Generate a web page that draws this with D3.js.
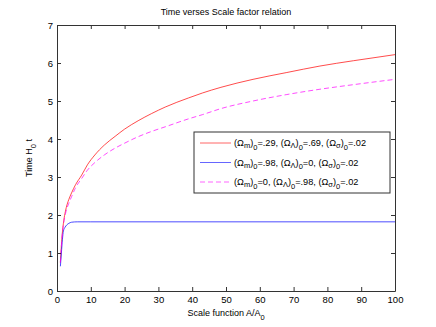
<!DOCTYPE html>
<html>
<head>
<meta charset="utf-8">
<script src="https://cdn.jsdelivr.net/npm/d3@7"></script>
<style>
  body { margin: 0; background: #fff; }
  text { font-family: "Liberation Sans", Arial, sans-serif; fill: #000; }
</style>
</head>
<body>
<svg id="chart" width="436" height="327"></svg>
<script>
// data
const xRed = [1, 1.5, 2, 2.5, 3, 3.5, 4.3, 5.5, 7.3, 9, 11.2, 14, 17.2, 20, 24, 28, 32, 38.9, 43, 48.5, 58, 68, 77.8, 87.7, 100];
const yRed = [0.75, 1.45, 1.85, 2.1, 2.28, 2.41, 2.58, 2.8, 3.05, 3.32, 3.58, 3.84, 4.07, 4.26, 4.48, 4.67, 4.84, 5.08, 5.21, 5.36, 5.57, 5.75, 5.92, 6.06, 6.22];

const xBlue = [1, 1.3, 1.6, 1.9, 2.4, 2.9, 3.5, 4.3, 6, 10, 100];
const yBlue = [0.65, 1.0, 1.35, 1.58, 1.68, 1.74, 1.78, 1.81, 1.82, 1.82, 1.82];

const xMag = [1, 1.5, 2, 2.5, 3, 3.5, 4.3, 5.5, 7.3, 9, 11.2, 14, 17.2, 20, 24, 28, 32, 38.9, 43, 48.5, 58, 68, 77.8, 87.7, 100];
const yMag = [0.75, 1.42, 1.8, 2.03, 2.19, 2.31, 2.48, 2.72, 2.96, 3.18, 3.38, 3.58, 3.76, 3.89, 4.06, 4.2, 4.32, 4.53, 4.64, 4.8, 5.0, 5.17, 5.31, 5.43, 5.57];

const xTicks = [0, 10, 20, 30, 40, 50, 60, 70, 80, 90, 100];
const yTicks = [0, 1, 2, 3, 4, 5, 6, 7];

// legend label pieces: [text, 0 = normal | 1 = lower subscript | 2 = index subscript]
const legendRows = [
  [["(Ω", 0], ["m", 1], [")", 0], ["0", 2], ["=.29, (Ω", 0], ["Λ", 1], [")", 0], ["0", 2], ["=.69, (Ω", 0], ["σ", 1], [")", 0], ["0", 2], ["=.02", 0]],
  [["(Ω", 0], ["m", 1], [")", 0], ["0", 2], ["=.98, (Ω", 0], ["Λ", 1], [")", 0], ["0", 2], ["=0, (Ω", 0], ["σ", 1], [")", 0], ["0", 2], ["=.02", 0]],
  [["(Ω", 0], ["m", 1], [")", 0], ["0", 2], ["=0, (Ω", 0], ["Λ", 1], [")", 0], ["0", 2], ["=.98, (Ω", 0], ["σ", 1], [")", 0], ["0", 2], ["=.02", 0]]
];

const series = [
  { x: xRed, y: yRed, color: "#ff0000", dash: null },
  { x: xBlue, y: yBlue, color: "#0000ff", dash: null },
  { x: xMag, y: yMag, color: "#ff00ff", dash: "5,3" }
];

const margin = { top: 25, right: 41, bottom: 36, left: 57 };
const width = 436, height = 327;
const axisColor = "#333";

const xScale = d3.scaleLinear().domain([0, 100]).range([margin.left, width - margin.right]);
const yScale = d3.scaleLinear().domain([0, 7]).range([height - margin.bottom, margin.top]);

const svg = d3.select("#chart");

// lines
const line = d3.line().x(d => xScale(d[0])).y(d => yScale(d[1])).curve(d3.curveMonotoneX);
series.forEach(s => {
  svg.append("path")
    .datum(s.x.map((v, i) => [v, s.y[i]]))
    .attr("d", line)
    .attr("fill", "none")
    .attr("stroke", s.color)
    .attr("stroke-opacity", 0.7)
    .attr("stroke-width", 1)
    .attr("stroke-dasharray", s.dash);
});

// axes, matlab style box with inward ticks
const gx = svg.append("g").attr("transform", `translate(0,${yScale(0)})`)
  .call(d3.axisBottom(xScale).tickValues(xTicks).tickSize(-4).tickPadding(3).tickSizeOuter(0));
const gxTop = svg.append("g").attr("transform", `translate(0,${yScale(7)})`)
  .call(d3.axisTop(xScale).tickValues(xTicks).tickSize(-4).tickFormat("").tickSizeOuter(0));
const gy = svg.append("g").attr("transform", `translate(${xScale(0)},0)`)
  .call(d3.axisLeft(yScale).tickValues(yTicks).tickFormat(d3.format("d")).tickSize(-4).tickPadding(4).tickSizeOuter(0));
const gyRight = svg.append("g").attr("transform", `translate(${xScale(100)},0)`)
  .call(d3.axisRight(yScale).tickValues(yTicks).tickSize(-4).tickFormat("").tickSizeOuter(0));

[gx, gxTop, gy, gyRight].forEach(g => {
  g.select(".domain").attr("stroke", axisColor);
  g.selectAll(".tick line").attr("stroke", axisColor);
  g.selectAll("text").attr("font-size", 9.5).attr("font-family", "Liberation Sans, Arial, sans-serif").attr("fill", "#000");
});
gx.selectAll("text").attr("dy", "0.9em");

// title
svg.append("text")
  .attr("x", (xScale(0) + xScale(100)) / 2).attr("y", 15)
  .attr("text-anchor", "middle").attr("font-size", 9)
  .text("Time verses Scale factor relation");

// x label
const xl = svg.append("text")
  .attr("x", (xScale(0) + xScale(100)) / 2).attr("y", 316)
  .attr("text-anchor", "middle").attr("font-size", 9);
xl.append("tspan").text("Scale function A/A");
xl.append("tspan").attr("dy", 3.5).attr("font-size", 7.5).text("0");

// y label
const yl = svg.append("text")
  .attr("transform", `translate(32,${(yScale(0) + yScale(7)) / 2}) rotate(-90)`)
  .attr("text-anchor", "middle").attr("font-size", 9);
yl.append("tspan").text("Time H");
yl.append("tspan").attr("dy", 3.5).attr("font-size", 7.5).text("0");
yl.append("tspan").attr("dy", -3.5).text(" t");

// legend
const shifts = [0, 2, 3.5];
const lg = svg.append("g");
lg.append("rect")
  .attr("x", 194).attr("y", 132).attr("width", 196).attr("height", 61)
  .attr("fill", "#fff").attr("stroke", axisColor).attr("stroke-width", 1);
legendRows.forEach((row, i) => {
  const y = 143 + i * 19.5;
  lg.append("line")
    .attr("x1", 200).attr("x2", 231).attr("y1", y).attr("y2", y)
    .attr("stroke", series[i].color).attr("stroke-opacity", 0.6)
    .attr("stroke-dasharray", series[i].dash);
  const t = lg.append("text").attr("x", 234).attr("y", y + 3).attr("font-size", 9.2);
  let prev = 0;
  row.forEach(([s, k]) => {
    t.append("tspan").attr("dy", shifts[k] - prev)
      .attr("font-size", k === 0 ? 9.2 : 7.5).text(s);
    prev = shifts[k];
  });
});
</script>
</body>
</html>
